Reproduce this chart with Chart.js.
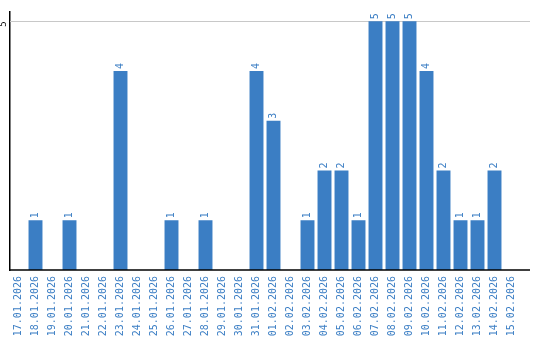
<!DOCTYPE html>
<html>
<head>
<meta charset="utf-8">
<script src="https://cdn.jsdelivr.net/npm/chart.js@4/dist/chart.umd.min.js"></script>
<style>
  html, body { margin: 0; padding: 0; background: #fff; }
</style>
</head>
<body>
<canvas id="chart" width="540" height="340"></canvas>
<script>
var days = [
  '17.01.2026', '18.01.2026', '19.01.2026', '20.01.2026', '21.01.2026',
  '22.01.2026', '23.01.2026', '24.01.2026', '25.01.2026', '26.01.2026',
  '27.01.2026', '28.01.2026', '29.01.2026', '30.01.2026', '31.01.2026',
  '01.02.2026', '02.02.2026', '03.02.2026', '04.02.2026', '05.02.2026',
  '06.02.2026', '07.02.2026', '08.02.2026', '09.02.2026', '10.02.2026',
  '11.02.2026', '12.02.2026', '13.02.2026', '14.02.2026', '15.02.2026'
];

var counts = [
  0, 1, 0, 1, 0,
  0, 4, 0, 0, 1,
  0, 1, 0, 0, 4,
  3, 0, 1, 2, 2,
  1, 5, 5, 5, 4,
  2, 1, 1, 2, 0
];

var yTicks = [5];

var blue = '#3b7ec4';
var font = { family: 'DejaVu Sans Mono', size: 10 };

// lines: grid at the tick values + bottom axis, a bit longer than the bars area
var linesPlugin = {
  id: 'lines',
  beforeDatasetsDraw: function(chart) {
    var ctx = chart.ctx, area = chart.chartArea, y = chart.scales.y;
    ctx.save();
    ctx.lineWidth = 1;
    ctx.strokeStyle = '#c8c8c8';
    yTicks.forEach(function(v) {
      var py = Math.round(y.getPixelForValue(v)) + 0.5;
      ctx.beginPath();
      ctx.moveTo(area.left, py);
      ctx.lineTo(area.right + 10, py);
      ctx.stroke();
    });
    ctx.restore();
  },
  afterDatasetsDraw: function(chart) {
    var ctx = chart.ctx, area = chart.chartArea;
    ctx.save();
    ctx.strokeStyle = '#000';
    ctx.lineWidth = 1.5;
    ctx.beginPath();
    ctx.moveTo(area.left, area.bottom);
    ctx.lineTo(area.right + 10, area.bottom);
    ctx.stroke();

    // value labels on top of bars
    var meta = chart.getDatasetMeta(0);
    ctx.fillStyle = blue;
    ctx.font = font.size + 'px ' + font.family;
    ctx.textAlign = 'left';
    ctx.textBaseline = 'middle';
    meta.data.forEach(function(bar, i) {
      if (!counts[i]) return;
      ctx.save();
      ctx.translate(bar.x, bar.y - 2);
      ctx.rotate(-Math.PI / 2);
      ctx.fillText(String(counts[i]), 0, 0);
      ctx.restore();
    });
    ctx.restore();
  }
};

new Chart(document.getElementById('chart'), {
  type: 'bar',
  data: {
    labels: days,
    datasets: [{
      data: counts,
      backgroundColor: blue,
      barPercentage: 0.82,
      categoryPercentage: 1
    }]
  },
  options: {
    responsive: false,
    animation: false,
    devicePixelRatio: 1,
    layout: { padding: { top: 10, right: 20, left: 0, bottom: 0 } },
    plugins: { legend: { display: false }, tooltip: { enabled: false } },
    scales: {
      x: {
        grid: { display: false, drawTicks: false },
        border: { display: false },
        ticks: {
          color: blue,
          font: font,
          minRotation: 90,
          maxRotation: 90,
          padding: 6,
          autoSkip: false
        },
        afterFit: function(s) { s.height = 70; }
      },
      y: {
        min: 0,
        max: 5.2,
        afterBuildTicks: function(s) {
          s.ticks = yTicks.map(function(v) { return { value: v }; });
        },
        grid: { display: false, drawTicks: false },
        border: { display: true, color: '#000', width: 1.5 },
        ticks: {
          color: '#000',
          font: { family: 'DejaVu Sans Mono', size: 9 },
          minRotation: 90,
          maxRotation: 90,
          padding: 6
        },
        afterFit: function(s) { s.width = 10; }
      }
    }
  },
  plugins: [linesPlugin]
});
</script>
</body>
</html>
